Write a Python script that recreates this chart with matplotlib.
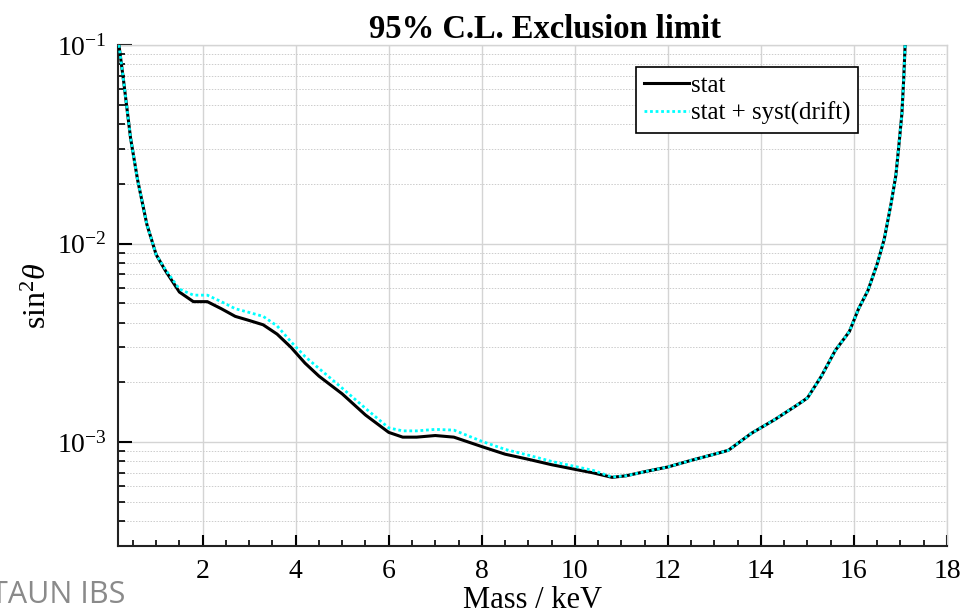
import numpy as np
import matplotlib
matplotlib.use("Agg")
import matplotlib.pyplot as plt
from matplotlib.ticker import LogLocator, MultipleLocator, FixedLocator, FixedFormatter, NullFormatter

plt.rcParams['font.family'] = ['Liberation Serif', 'DejaVu Serif']
plt.rcParams['mathtext.fontset'] = 'custom'
plt.rcParams['mathtext.rm'] = 'Liberation Serif'
plt.rcParams['mathtext.it'] = 'Liberation Serif:italic'

# mass points (keV)
mass = [0.2, 0.3, 0.45, 0.6, 0.8, 1.0, 1.2, 1.5, 1.8, 2.1, 2.4, 2.7, 3.0, 3.3,
        3.6, 3.9, 4.2, 4.5, 5.0, 5.5, 6.0, 6.3, 6.6, 7.0, 7.4, 8.0, 8.5, 9.0,
        9.5, 10.0, 10.4, 10.8, 11.1, 11.5, 12.0, 12.5, 13.0, 13.3, 13.8, 14.3,
        14.8, 15.0, 15.3, 15.6, 15.9, 16.1, 16.3, 16.5, 16.65, 16.8, 16.9,
        16.97, 17.03, 17.07, 17.1]

# stat only limit
stat = [0.1, 0.066, 0.034, 0.021, 0.0125, 0.0088, 0.0073, 0.0057, 0.0051,
        0.0051, 0.0047, 0.0043, 0.0041, 0.0039, 0.0035, 0.0030, 0.0025,
        0.00215, 0.00175, 0.00137, 0.00112, 0.00106, 0.00106, 0.00108,
        0.00106, 0.00095, 0.00087, 0.00082, 0.00077, 0.00073, 0.0007,
        0.000665, 0.000677, 0.00071, 0.00075, 0.00081, 0.00087, 0.00091,
        0.00111, 0.0013, 0.00155, 0.00167, 0.00215, 0.0029, 0.0036, 0.0047,
        0.0058, 0.0079, 0.0105, 0.016, 0.022, 0.032, 0.045, 0.068, 0.1]

# stat + syst(drift)
syst = [0.1, 0.066, 0.034, 0.021, 0.0125, 0.0088, 0.0074, 0.0059, 0.0055,
        0.0055, 0.0051, 0.0047, 0.0045, 0.0043, 0.00385, 0.0032, 0.0027,
        0.00235, 0.00187, 0.00148, 0.00118, 0.00114, 0.00114, 0.00116,
        0.00115, 0.00101, 0.00092, 0.00086, 0.0008, 0.000755, 0.00072,
        0.000668, 0.000677, 0.00071, 0.00075, 0.00081, 0.00087, 0.00091,
        0.00111, 0.0013, 0.00155, 0.00167, 0.00215, 0.0029, 0.0036, 0.0047,
        0.0058, 0.0079, 0.0105, 0.016, 0.022, 0.032, 0.045, 0.068, 0.1]

ytick_vals = [1e-3, 1e-2, 1e-1]
ytick_labels = [r'$\mathregular{10^{-3}}$', r'$\mathregular{10^{-2}}$', r'$\mathregular{10^{-1}}$']

fig = plt.figure(figsize=(9.64, 6.16), dpi=100)
ax = fig.add_axes([118 / 964, 1 - 546 / 616, 829 / 964, 501 / 616])

ax.plot(mass, stat, color='black', lw=2.2, label='stat', zorder=3)
ax.plot(mass, syst, color='cyan', lw=2.0, ls=(0, (1, 1)), label='stat + syst(drift)', zorder=4)

ax.set_yscale('log')
ax.set_xlim(0.18, 18)
ax.set_ylim(3e-4, 0.1)

ax.xaxis.set_major_locator(MultipleLocator(2))
ax.xaxis.set_minor_locator(MultipleLocator(0.5))
ax.yaxis.set_major_locator(FixedLocator(ytick_vals))
ax.yaxis.set_major_formatter(FixedFormatter(ytick_labels))
ax.yaxis.set_minor_locator(LogLocator(base=10, subs=np.arange(2, 10)))
ax.yaxis.set_minor_formatter(NullFormatter())

ax.tick_params(axis='both', which='both', direction='in', top=False, right=False)
ax.tick_params(axis='x', which='major', length=8, width=1.5, labelsize=20, pad=9)
ax.tick_params(axis='x', which='minor', length=4, width=1.2)
ax.tick_params(axis='y', which='major', length=10, width=1.5, labelsize=20, pad=8)
ax.tick_params(axis='y', which='minor', length=5, width=1.2)

ax.grid(True, which='major', color='#d4d4d4', lw=1.0, ls='-')
ax.grid(True, which='minor', axis='y', color='#cccccc', lw=0.7, ls=(0, (1.5, 1.5)))

for side in ['top', 'right']:
    ax.spines[side].set_color('#d4d4d4')
    ax.spines[side].set_linewidth(1.0)
for side in ['left', 'bottom']:
    ax.spines[side].set_color('#222222')
    ax.spines[side].set_linewidth(1.5)

ax.set_title('95% C.L. Exclusion limit', fontsize=23.5, fontweight='bold', pad=5, x=0.515)
ax.set_xlabel('Mass / keV', fontsize=22, labelpad=1.5)
ax.set_ylabel(r'$\mathregular{sin}^{2}\theta$', fontsize=23, labelpad=3)

leg = ax.legend(loc='upper left', bbox_to_anchor=(0.625, 0.956), fontsize=18,
                frameon=True, fancybox=False, edgecolor='black', framealpha=1,
                handlelength=1.8, handletextpad=0.1, borderpad=0.3,
                labelspacing=0.2, borderaxespad=0)
leg.get_frame().set_linewidth(1.2)

fig.text(125 / 964, 1 - 603 / 616, 'TAUN IBS', ha='right', va='baseline',
         fontsize=22, color='#8a8a8a', family='Open Sans')

fig.savefig('out.png', dpi=100)
